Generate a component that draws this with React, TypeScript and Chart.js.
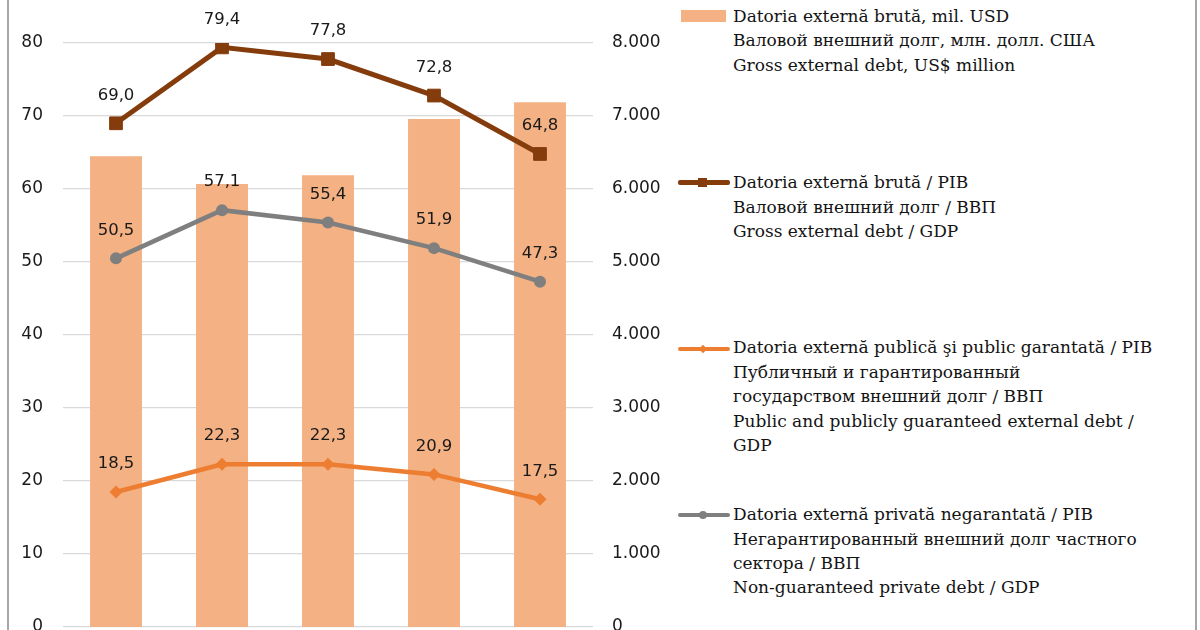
import React, { useEffect, useRef } from "react";
import { Chart, registerables } from "chart.js";

Chart.register(...registerables);

// ---- data ----
const categories = ["1", "2", "3", "4", "5"]; // category labels are outside the visible picture
const grossDebtUSD = [6450, 6070, 6190, 6960, 7190];
const grossDebtGDP = [69.0, 79.4, 77.8, 72.8, 64.8];
const privateDebtGDP = [50.5, 57.1, 55.4, 51.9, 47.3];
const publicDebtGDP = [18.5, 22.3, 22.3, 20.9, 17.5];
const leftAxisRange = [0, 80, 10];
const rightAxisRange = [0, 8000, 1000];

const legendBars = [
  "Datoria externă brută, mil. USD",
  "Валовой внешний долг, млн. долл. США",
  "Gross external debt, US$ million",
];
const legendGross = [
  "Datoria externă brută / PIB",
  "Валовой внешний долг / ВВП",
  "Gross external debt / GDP",
];
const legendPublic = [
  "Datoria externă publică şi public garantată / PIB",
  "Публичный и гарантированный",
  "государством внешний долг / ВВП",
  "Public and publicly guaranteed external debt /",
  "GDP",
];
const legendPrivate = [
  "Datoria externă privată negarantată / PIB",
  "Негарантированный внешний долг частного",
  "сектора / ВВП",
  "Non-guaranteed private debt / GDP",
];

const COLORS = {
  bar: "#F4B183",
  brown: "#843C0C",
  orange: "#ED7D31",
  gray: "#7F7F7F",
  grid: "#D9D9D9",
  text: "#1a1a1a",
};

const fmtThousands = (v: number) =>
  String(v).replace(/\B(?=(\d{3})+(?!\d))/g, ".");

const valueLabels = {
  id: "valueLabels",
  afterDatasetsDraw(chart: any) {
    const ctx = chart.ctx;
    chart.data.datasets.forEach((ds: any, i: number) => {
      if (ds.type !== "line") return;
      const meta = chart.getDatasetMeta(i);
      meta.data.forEach((pt: any, j: number) => {
        const v = ds.data[j] as number;
        ctx.save();
        ctx.font = "16.5px 'DejaVu Sans'";
        ctx.fillStyle = COLORS.text;
        ctx.textAlign = "center";
        ctx.textBaseline = "middle";
        ctx.fillText(v.toFixed(1).replace(".", ","), pt.x, pt.y - 28);
        ctx.restore();
      });
    });
  },
};

const CANVAS_W = 680;
const CANVAS_H = 660;

function LegendBlock({ lines, top }: { lines: string[]; top: number }) {
  return (
    <div
      style={{
        position: "absolute",
        left: 733,
        top,
        fontFamily: "'DejaVu Serif', serif",
        fontSize: 17,
        lineHeight: "24.4px",
        color: "#141414",
        whiteSpace: "nowrap",
      }}
    >
      {lines.map((l, i) => (
        <div key={i}>{l}</div>
      ))}
    </div>
  );
}

export default function App() {
  const ref = useRef<HTMLCanvasElement | null>(null);

  useEffect(() => {
    if (!ref.current) return;
    const tickFont = { family: "'DejaVu Sans'", size: 17 };
    const chart = new Chart(ref.current, {
      type: "bar",
      data: {
        labels: categories,
        datasets: [
          {
            type: "line",
            label: legendGross[0],
            data: grossDebtGDP,
            yAxisID: "y",
            borderColor: COLORS.brown,
            backgroundColor: COLORS.brown,
            borderWidth: 5,
            pointStyle: "rect",
            pointRadius: 9,
            pointBorderWidth: 1,
            pointBackgroundColor: COLORS.brown,
            pointBorderColor: COLORS.brown,
            order: 1,
          } as any,
          {
            type: "line",
            label: legendPrivate[0],
            data: privateDebtGDP,
            yAxisID: "y",
            borderColor: COLORS.gray,
            backgroundColor: COLORS.gray,
            borderWidth: 4.5,
            pointStyle: "circle",
            pointRadius: 6,
            pointBorderWidth: 0,
            pointBackgroundColor: COLORS.gray,
            order: 2,
          } as any,
          {
            type: "line",
            label: legendPublic[0],
            data: publicDebtGDP,
            yAxisID: "y",
            borderColor: COLORS.orange,
            backgroundColor: COLORS.orange,
            borderWidth: 4.5,
            pointStyle: "rectRot",
            pointRadius: 6.5,
            pointBorderWidth: 0,
            pointBackgroundColor: COLORS.orange,
            order: 3,
          } as any,
          {
            type: "bar",
            label: legendBars[0],
            data: grossDebtUSD,
            yAxisID: "y1",
            backgroundColor: COLORS.bar,
            borderWidth: 0,
            barPercentage: 0.49,
            categoryPercentage: 1.0,
            order: 10,
          } as any,
        ],
      },
      options: {
        responsive: false,
        animation: false,
        devicePixelRatio: 1,
        layout: { padding: { left: 0, right: 0, top: 43, bottom: CANVAS_H - 627 } },
        plugins: {
          legend: { display: false },
          tooltip: { enabled: false },
        },
        scales: {
          x: {
            display: false,
            offset: true,
            grid: { display: false },
          },
          y: {
            position: "left",
            min: leftAxisRange[0],
            max: leftAxisRange[1],
            ticks: {
              stepSize: leftAxisRange[2],
              padding: 20,
              font: tickFont,
              color: COLORS.text,
            },
            grid: { color: COLORS.grid, lineWidth: 1.3, drawTicks: false },
            border: { display: false },
            afterFit: (s: any) => {
              s.width = 63;
            },
          },
          y1: {
            position: "right",
            min: rightAxisRange[0],
            max: rightAxisRange[1],
            ticks: {
              stepSize: rightAxisRange[2],
              padding: 19,
              font: tickFont,
              color: COLORS.text,
              callback: (v: any) => fmtThousands(Number(v)),
            },
            grid: { display: false, drawTicks: false },
            border: { display: false },
            afterFit: (s: any) => {
              s.width = CANVAS_W - 593;
            },
          },
        },
      } as any,
      plugins: [valueLabels],
    });
    return () => chart.destroy();
  }, []);

  return (
    <div
      style={{
        position: "absolute",
        left: 0,
        top: 0,
        width: 1200,
        height: 630,
        overflow: "hidden",
        background: "#ffffff",
      }}
    >
      <canvas
        ref={ref}
        width={CANVAS_W}
        height={CANVAS_H}
        style={{ position: "absolute", left: 0, top: 0, width: CANVAS_W, height: CANVAS_H }}
      />
      {/* frame lines */}
      <div style={{ position: "absolute", left: 7, top: 0, width: 2, height: 630, background: "#A6A6A6" }} />
      <div style={{ position: "absolute", left: 1195, top: 0, width: 2, height: 630, background: "#A6A6A6" }} />

      {/* legend symbols */}
      <div style={{ position: "absolute", left: 681, top: 10, width: 45, height: 12, background: COLORS.bar }} />

      <div style={{ position: "absolute", left: 678, top: 179.5, width: 52, height: 5, background: COLORS.brown, borderRadius: 2 }} />
      <div style={{ position: "absolute", left: 698, top: 177.5, width: 9, height: 9, background: COLORS.brown }} />

      <div style={{ position: "absolute", left: 678, top: 346.5, width: 52, height: 4, background: COLORS.orange, borderRadius: 2 }} />
      <div
        style={{
          position: "absolute",
          left: 700,
          top: 345.5,
          width: 6,
          height: 6,
          background: COLORS.orange,
          transform: "rotate(45deg)",
        }}
      />

      <div style={{ position: "absolute", left: 678, top: 513, width: 52, height: 4, background: COLORS.gray, borderRadius: 2 }} />
      <div
        style={{
          position: "absolute",
          left: 699,
          top: 511,
          width: 8,
          height: 8,
          background: COLORS.gray,
          borderRadius: "50%",
        }}
      />

      <LegendBlock lines={legendBars} top={3.8} />
      <LegendBlock lines={legendGross} top={170.4} />
      <LegendBlock lines={legendPublic} top={335.4} />
      <LegendBlock lines={legendPrivate} top={502.1} />
    </div>
  );
}
